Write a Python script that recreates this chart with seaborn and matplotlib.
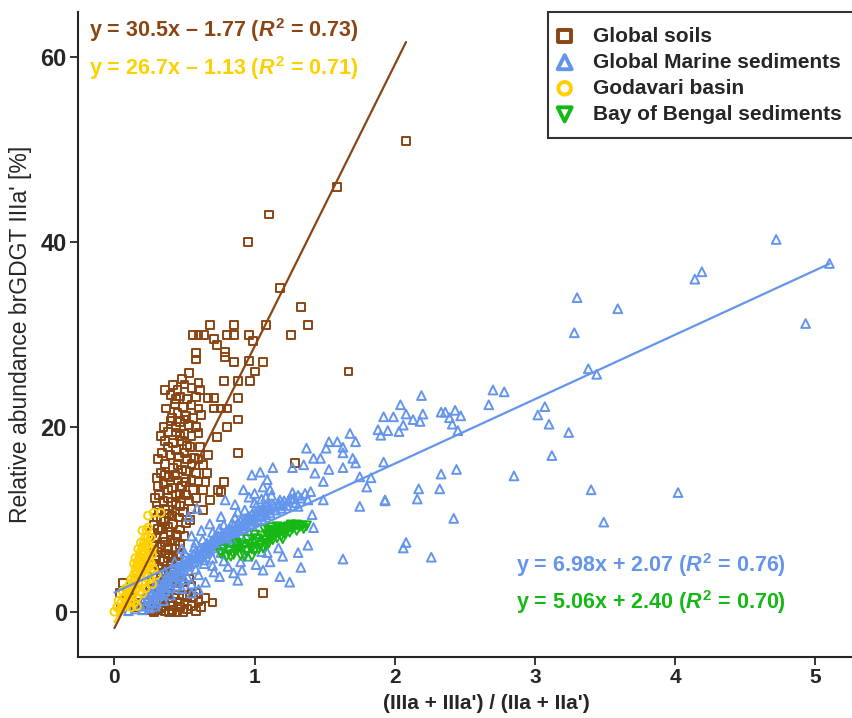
import numpy as np
import pandas as pd
import matplotlib
matplotlib.use("Agg")
import matplotlib.pyplot as plt
import seaborn as sns

# Values (x = (IIIa+IIIa')/(IIa+IIa'), y = % IIIa')
soils = [
    (2.08, 51), (1.59, 46), (1.10, 43), (0.95, 40), (1.18, 35), (1.33, 33), (1.38, 31),
    (1.26, 30), (1.08, 31), (1.67, 26), (0.68, 31), (0.85, 31), (0.56, 30), (0.60, 30),
    (0.64, 30), (0.80, 30), (0.85, 30), (0.96, 30), (0.99, 29.3), (0.71, 29.5), (0.73, 28.9),
    (0.79, 28.1), (0.58, 28), (0.58, 27.3), (0.79, 27.6), (0.85, 27), (0.96, 27.1), (1.06, 27),
    (1.0, 26), (0.53, 25.8), (0.48, 25.2), (0.60, 24.8), (0.78, 25), (0.88, 25), (0.97, 25),
    (0.42, 24.5), (0.45, 24), (0.5, 24.6), (0.55, 24.2), (0.61, 24), (0.47, 23.3), (0.52, 23),
    (0.58, 23.2), (0.67, 23.1), (0.71, 23.1), (0.88, 23.1), (0.43, 22.5), (0.49, 22.2),
    (0.55, 22.4), (0.60, 22), (0.71, 22), (0.76, 22), (0.8, 22), (0.45, 21.5), (0.51, 21.2),
    (0.56, 21), (0.62, 21.3), (0.88, 20.8), (0.40, 20.6), (0.47, 20.5), (0.53, 20.2),
    (0.58, 20), (0.8, 20), (0.38, 19.5), (0.44, 19.4), (0.5, 19.2), (0.55, 19), (0.6, 19.3),
    (0.73, 18.9), (0.36, 18.5), (0.42, 18.3), (0.48, 18.5), (0.54, 17.8), (0.61, 17.8),
    (0.88, 17.2), (0.67, 17), (0.34, 17.2), (0.4, 17), (0.46, 16.8), (0.52, 16.5), (0.57, 16.6),
    (0.63, 15.9), (0.36, 16), (0.42, 15.6), (0.48, 15.4), (0.58, 15), (0.66, 15), (0.33, 15),
    (0.39, 14.6), (1.29, 16.1), (0.76, 13), (0.65, 14), (0.78, 14), (0.45, 14.2), (0.51, 14),
    (0.35, 13.8), (0.41, 13.4), (0.74, 13.2), (0.56, 13.2), (0.63, 13.2), (0.47, 12.8),
    (0.32, 12.6), (0.38, 12.3), (0.68, 12.1), (0.53, 12), (0.44, 11.6), (0.30, 11.5),
    (0.63, 11), (0.36, 11), (0.49, 10.8), (0.41, 10.4), (0.54, 9.9), (0.33, 10), (0.28, 9.4),
    (0.38, 9.2), (0.47, 8.9), (0.34, 8.9), (0.44, 8.3), (0.30, 8), (0.40, 7.8), (0.36, 7.5),
    (0.33, 7), (0.43, 6.8), (0.39, 6.2), (0.29, 5.9), (0.46, 6.2), (0.35, 5.5), (0.41, 5.2),
    (0.32, 4.8), (0.50, 5), (0.37, 4.4), (0.44, 4), (0.30, 3.8), (0.40, 3.4), (0.48, 3.2),
    (0.27, 3.2), (0.35, 3), (0.06, 3.1), (0.04, 2), (0.26, 2), (0.35, 2.4), (0.45, 2.3),
    (0.22, 1.4), (0.30, 1.1), (0.38, 1.5), (0.45, 1.1), (0.60, 1.1), (0.52, 1.6), (1.06, 2),
    (0.15, 0.5), (0.20, 0.2), (0.25, 0.6), (0.31, 0.2), (0.39, 0), (0.45, 0), (0.52, 0.3),
    (0.10, 0.1), (0.05, 0.4), (0.58, 0.1), (0.35, 0.6), (0.28, 0.0), (0.42, 0.6), (0.18, 0.9),
    (0.12, 1.5),
    (0.36, 24.0), (0.4, 23.5), (0.44, 23.0), (0.37, 22.0), (0.41, 21.0), (0.35, 20.0),
    (0.44, 20.0), (0.5, 20.8), (0.33, 19.0), (0.47, 19.0), (0.52, 18.0), (0.38, 17.8),
    (0.44, 17.5), (0.31, 16.5), (0.5, 17.2), (0.55, 16.0), (0.6, 16.5), (0.45, 15.9),
    (0.51, 15.2), (0.3, 14.5), (0.36, 14.8), (0.43, 14.8), (0.55, 14.3), (0.6, 14.1),
    (0.48, 13.6), (0.38, 13.2), (0.31, 13.6), (0.44, 12.6), (0.51, 12.6), (0.58, 12.3),
    (0.35, 12.0), (0.41, 11.9), (0.29, 12.3), (0.47, 11.4), (0.55, 11.1), (0.32, 11.0),
    (0.39, 10.6), (0.46, 10.2), (0.51, 9.6), (0.3, 10.2), (0.36, 9.8), (0.42, 9.5), (0.31, 9.0),
    (0.4, 8.6), (0.5, 8.2), (0.27, 8.5), (0.35, 8.1), (0.43, 7.6), (0.28, 7.2), (0.38, 6.9),
    (0.47, 7.2), (0.31, 6.5), (0.42, 6.0), (0.36, 6.3), (0.28, 5.2), (0.38, 5.8), (0.45, 5.2),
    (0.33, 4.2), (0.41, 4.6), (0.47, 4.2), (0.28, 4.5), (0.36, 3.6), (0.44, 3.2), (0.32, 2.6),
    (0.4, 2.5), (0.5, 2.4), (0.55, 2.8), (0.25, 2.6), (0.3, 2.0), (0.38, 2.0), (0.48, 1.8),
    (0.56, 1.6), (0.24, 1.0), (0.33, 1.4), (0.41, 1.0), (0.5, 1.0), (0.55, 0.6), (0.47, 0.5),
    (0.36, 0.1), (0.41, 0.2), (0.49, 0.0), (0.33, 0.4), (0.26, 0.2), (0.43, 1.8), (0.62, 0.5),
    (0.53, 3.5), (0.58, 2.0), (0.65, 1.5), (0.7, 1.0),
]

marine = [
    (4.72, 40.3), (5.10, 37.7), (4.19, 36.8), (4.14, 36.0), (4.93, 31.2), (3.30, 34.0),
    (3.59, 32.8), (3.28, 30.2), (3.38, 26.3), (3.44, 25.7), (3.07, 22.2), (3.02, 21.3),
    (3.10, 20.3), (3.24, 19.4), (3.12, 16.9), (2.70, 24.0), (2.78, 23.8), (2.67, 22.4),
    (2.85, 14.7), (3.40, 13.2), (4.02, 12.9), (3.49, 9.7), (2.44, 15.4), (2.33, 14.9),
    (2.17, 13.3), (2.32, 13.3), (2.16, 12.2), (1.93, 12.0), (2.42, 10.1), (2.08, 7.5),
    (2.06, 6.9), (2.26, 5.9), (1.92, 16.2), (2.19, 23.4), (2.04, 22.4), (1.92, 21.1),
    (1.99, 21.1), (2.08, 21.4), (2.20, 21.4), (2.13, 20.8), (2.18, 20.6), (2.06, 20.2),
    (1.95, 19.6), (2.03, 19.5), (1.90, 19.1), (2.33, 21.6), (2.36, 21.6), (2.43, 21.8),
    (2.47, 21.2), (2.39, 21.0), (2.41, 20.3), (2.45, 19.6), (1.63, 5.7),
    (1.88, 19.7), (1.68, 19.3), (1.72, 18.4), (1.53, 18.4), (1.59, 18.4), (1.63, 17.8),
    (1.51, 17.7), (1.37, 17.7), (1.63, 17.2), (1.42, 16.6), (1.47, 16.6), (1.70, 16.6),
    (1.35, 15.9), (1.53, 15.4), (1.63, 15.6), (1.72, 16.1), (1.43, 15.0), (1.27, 15.6),
    (1.13, 15.6), (1.75, 14.6), (1.83, 14.5), (1.80, 13.5), (1.49, 14.1), (0.98, 14.8),
    (1.04, 15.1), (1.09, 14.3), (1.06, 13.5), (1.11, 13.2), (0.92, 13.2), (0.96, 12.4),
    (0.86, 11.6), (0.79, 12.1), (0.59, 11.2), (0.53, 10.3), (0.76, 10.3), (1.01, 11.4),
    (1.18, 12.1), (1.27, 12.9), (1.38, 12.1), (1.31, 11.4), (1.41, 10.5), (1.49, 12.1),
    (1.75, 11.4), (1.93, 12.1), (1.42, 9.1), (1.38, 7.2), (1.31, 6.4), (1.17, 6.9),
    (1.09, 6.4), (1.20, 6.0), (1.11, 5.4), (1.33, 4.8), (0.90, 5.4), (1.01, 5.1), (0.91, 4.5),
    (1.06, 4.5), (1.18, 3.8), (0.81, 4.9), (0.71, 4.3), (0.64, 5.6), (1.25, 3.2),
    (0.62, 8.8), (0.68, 9.5), (0.72, 8.2), (0.84, 9.6), (0.88, 10.8), (0.66, 7.2), (0.58, 7.5),
    (0.95, 10.2), (1.0, 12.8), (1.05, 12.2), (1.08, 11.5), (1.12, 12.6), (0.48, 6.8),
    (0.55, 8.2), (0.75, 9.0), (0.82, 7.5), (0.5, 3.5), (0.55, 3.0), (0.6, 4.0), (0.65, 3.2),
    (0.75, 3.8), (0.85, 4.2), (0.95, 6.0), (1.05, 6.5), (0.7, 5.0), (0.78, 5.5), (0.48, 2.5),
    (0.55, 2.0), (0.6, 2.4), (0.88, 3.4),
    (0.15, 0.3), (0.18, 0.8), (0.2, 1.2), (0.22, 0.6), (0.24, 1.5), (0.26, 1.0), (0.27, 2.0),
    (0.28, 1.4), (0.3, 2.4), (0.31, 1.8), (0.32, 3.0), (0.33, 2.2), (0.35, 3.2), (0.36, 2.6),
    (0.37, 3.8), (0.38, 3.0), (0.4, 4.0), (0.41, 3.4), (0.42, 4.6), (0.44, 3.8), (0.45, 4.8),
    (0.46, 4.2), (0.48, 5.2), (0.49, 4.5), (0.5, 5.6), (0.52, 4.9), (0.53, 5.8), (0.54, 5.2),
    (0.56, 6.2), (0.57, 5.4), (0.58, 6.5), (0.6, 5.8), (0.61, 6.8), (0.62, 6.0), (0.64, 7.0),
    (0.65, 6.3), (0.66, 7.4), (0.68, 6.6), (0.69, 7.6), (0.7, 6.9), (0.72, 8.0), (0.73, 7.2),
    (0.74, 8.2), (0.76, 7.4), (0.77, 8.5), (0.78, 7.7), (0.8, 8.8), (0.81, 8.0), (0.82, 9.0),
    (0.84, 8.2), (0.85, 9.3), (0.86, 8.5), (0.88, 9.6), (0.89, 8.8), (0.9, 9.8), (0.92, 9.0),
    (0.93, 10.0), (0.94, 9.3), (0.96, 10.3), (0.97, 9.5), (0.98, 10.5), (1.0, 9.8),
    (1.01, 10.8), (1.02, 10.0), (1.04, 11.0), (1.05, 10.3), (1.06, 11.2), (1.08, 10.5),
    (1.1, 11.4), (1.11, 10.7), (1.13, 11.6), (1.15, 11.0), (1.17, 11.8), (1.19, 11.2),
    (1.21, 12.0), (1.23, 11.5), (1.26, 12.2), (1.29, 11.8), (1.33, 12.3), (0.34, 1.8),
    (0.4, 2.6), (0.46, 3.2), (0.52, 3.8), (0.58, 4.6), (0.64, 5.2), (0.7, 5.8), (0.76, 6.4),
    (0.82, 7.0), (0.88, 7.6), (0.94, 8.2), (1.0, 8.8), (0.25, 0.4), (0.3, 0.9), (0.2, 0.2),
    (0.1, 0.1), (0.36, 4.3), (0.43, 5.4), (0.5, 6.4), (0.57, 7.0), (0.63, 7.8), (0.7, 8.6),
    (0.78, 9.4), (0.86, 10.2), (0.93, 11.0), (1.0, 11.8), (1.08, 12.4),
    (0.3, 3.0), (0.34, 2.8), (0.38, 3.5), (0.42, 3.9), (0.44, 4.4), (0.47, 4.6), (0.5, 5.0),
    (0.53, 5.4), (0.55, 5.7), (0.58, 5.9), (0.6, 6.3), (0.63, 6.5), (0.66, 6.8), (0.68, 7.1),
    (0.71, 7.4), (0.74, 7.7), (0.76, 7.9), (0.79, 8.2), (0.82, 8.5), (0.84, 8.8), (0.87, 9.1),
    (0.9, 9.3), (0.92, 9.6), (0.95, 9.8), (0.98, 10.0), (1.0, 10.3), (1.03, 10.5), (1.06, 10.8),
    (1.08, 11.0), (1.11, 11.2), (1.14, 11.4), (1.17, 11.5), (1.2, 11.7), (1.24, 12.0),
    (1.28, 12.3), (1.31, 12.6), (1.36, 12.8), (1.4, 13.0), (0.22, 1.8), (0.25, 2.2),
    (0.28, 2.6), (0.32, 2.0), (0.36, 2.3), (0.35, 1.2), (0.29, 0.6), (0.4, 1.8), (0.45, 2.8),
]

godavari = [
    (0.0, 0.0), (0.02, 0.5), (0.04, 0.2), (0.05, 1.0), (0.06, 0.5), (0.07, 1.5), (0.08, 1.0),
    (0.09, 2.0), (0.1, 1.5), (0.1, 2.5), (0.11, 3.0), (0.12, 2.0), (0.12, 3.5), (0.13, 2.8),
    (0.14, 4.0), (0.14, 3.2), (0.15, 4.5), (0.15, 3.6), (0.16, 5.0), (0.16, 4.2), (0.17, 5.5),
    (0.17, 4.8), (0.18, 6.0), (0.18, 5.2), (0.19, 6.5), (0.19, 5.8), (0.2, 7.0), (0.2, 6.2),
    (0.21, 7.5), (0.21, 6.6), (0.22, 8.0), (0.22, 7.0), (0.23, 7.2), (0.24, 8.1), (0.24, 9.1),
    (0.24, 6.7), (0.26, 4.3), (0.28, 10.7), (0.33, 10.7), (0.08, 2.5), (0.09, 0.8), (0.11, 1.2),
    (0.13, 1.8), (0.15, 2.5), (0.17, 3.2), (0.19, 4.0), (0.21, 4.8), (0.23, 5.5), (0.2, 3.0),
    (0.18, 2.2), (0.16, 1.5), (0.25, 5.5), (0.06, 2.2), (0.03, 1.2), (0.14, 5.2), (0.17, 6.8),
    (0.2, 8.8), (0.27, 6.2),
    (0.22, 5.8), (0.24, 4.8), (0.26, 5.2), (0.28, 4.6), (0.25, 3.5), (0.23, 3.8), (0.22, 2.5),
    (0.27, 3.0), (0.3, 4.0), (0.18, 3.8), (0.2, 2.0), (0.12, 0.5), (0.14, 1.0), (0.16, 0.6),
    (0.25, 7.0), (0.23, 8.8), (0.26, 8.0), (0.24, 10.4), (0.15, 5.8), (0.19, 7.5),
]

bengal = [
    (0.76, 6.3), (0.8, 6.0), (0.82, 6.6), (0.85, 6.2), (0.88, 6.8), (0.9, 6.1), (0.92, 7.0),
    (0.94, 6.5), (0.96, 7.3), (0.98, 6.8), (1.0, 7.5), (1.0, 6.6), (1.02, 7.9), (1.04, 7.2),
    (1.05, 8.2), (1.06, 6.9), (1.08, 7.7), (1.09, 8.4), (1.1, 7.4), (1.11, 8.0), (1.12, 8.6),
    (1.13, 7.8), (1.14, 8.3), (1.15, 8.8), (1.16, 8.0), (1.17, 8.5), (1.18, 9.0), (1.19, 8.2),
    (1.2, 8.7), (1.21, 9.1), (1.22, 8.4), (1.23, 8.9), (1.24, 9.2), (1.25, 8.6), (1.27, 9.0),
    (1.28, 9.3), (1.3, 8.8), (1.32, 9.2), (1.34, 9.3), (1.37, 9.3), (1.07, 8.9), (1.12, 9.1),
    (1.0, 8.3), (0.95, 7.8), (0.87, 7.4), (0.98, 6.0),
    (0.78, 6.8), (0.83, 6.0), (0.9, 7.2), (0.93, 6.0), (0.97, 7.0), (1.03, 6.8), (1.1, 8.8),
    (1.16, 9.2), (1.26, 9.4), (1.3, 9.4), (1.35, 9.0), (1.2, 7.9), (1.08, 7.2), (0.86, 6.6),
]

# regression lines: slope, intercept, x range (from the equations on the chart)
fits = {
    "soils": (30.5, -1.77, 0.0, 2.08),
    "godavari": (26.7, -1.13, 0.0, 0.30),
    "marine": (6.98, 2.07, 0.0, 5.10),
    "bengal": (5.06, 2.40, 0.75, 1.37),
}

brown = "#8B4513"
blue = "#6495ED"
yellow = "#FFD000"
green = "#16B816"

sns.set_style("ticks")
plt.rcParams["font.family"] = ["Liberation Sans", "DejaVu Sans"]
plt.rcParams["mathtext.fontset"] = "custom"
plt.rcParams["mathtext.rm"] = "Liberation Sans:bold"
plt.rcParams["mathtext.it"] = "Liberation Sans:bold:italic"

fig = plt.figure(figsize=(8.53, 7.18), dpi=100)
# the reference is cropped on the right: the axes run past the image edge
ax = fig.add_axes([0.0914, 0.085, 0.9566, 0.898])

def to_df(pts):
    return pd.DataFrame(pts, columns=["x", "y"])

ms = 32
sns.scatterplot(data=to_df(soils), x="x", y="y", marker="s", s=ms, facecolor="none",
                edgecolor=brown, linewidth=1.4, label="Global soils", ax=ax, zorder=2)
sns.scatterplot(data=to_df(marine), x="x", y="y", marker="^", s=ms + 8, facecolor="none",
                edgecolor=blue, linewidth=1.4, label="Global Marine sediments", ax=ax, zorder=3)
sns.scatterplot(data=to_df(godavari), x="x", y="y", marker="o", s=ms, facecolor="none",
                edgecolor=yellow, linewidth=1.4, label="Godavari basin", ax=ax, zorder=4)
sns.scatterplot(data=to_df(bengal), x="x", y="y", marker="v", s=ms + 8, facecolor="none",
                edgecolor=green, linewidth=1.4, label="Bay of Bengal sediments", ax=ax, zorder=5)

for key, col in [("marine", blue), ("bengal", green), ("godavari", yellow), ("soils", brown)]:
    m, b, x0, x1 = fits[key]
    xs = np.array([x0, x1])
    sns.lineplot(x=xs, y=m * xs + b, color=col, linewidth=1.6, ax=ax, zorder=6)

ax.set_xlim(-0.26, 5.56)
ax.set_ylim(-4.9, 64.9)
ax.set_xticks([0, 1, 2, 3, 4, 5])
ax.set_yticks([0, 20, 40, 60])
sns.despine(ax=ax)
for sp in ["left", "bottom"]:
    ax.spines[sp].set_linewidth(1.5)
ax.tick_params(axis="both", direction="out", length=6, width=1.3, pad=2)
ax.tick_params(axis="x", labelsize=15)
ax.tick_params(axis="y", labelsize=17)
for lab in ax.get_xticklabels() + ax.get_yticklabels():
    lab.set_fontweight("bold")

ax.set_xlabel("(IIIa + IIIa') / (IIa + IIa')", fontsize=15, fontweight="bold", labelpad=5)
ax.set_ylabel("Relative abundance brGDGT IIIa' [%]", fontsize=16.5, labelpad=6)

eq_kw = dict(transform=ax.transAxes, fontsize=15.5, fontweight="bold", va="center")
ax.text(0.013, 0.972, r"y = 30.5x – 1.77 ($\mathit{R}^{2}$ = 0.73)", color=brown, **eq_kw)
ax.text(0.013, 0.913, r"y = 26.7x – 1.13 ($\mathit{R}^{2}$ = 0.71)", color=yellow, **eq_kw)
ax.text(0.537, 0.143, r"y = 6.98x + 2.07 ($\mathit{R}^{2}$ = 0.76)", color=blue, **eq_kw)
ax.text(0.537, 0.085, r"y = 5.06x + 2.40 ($\mathit{R}^{2}$ = 0.70)", color=green, **eq_kw)

leg = ax.legend(loc="upper left", bbox_to_anchor=(548 / 853, 1 - 12 / 718),
                bbox_transform=fig.transFigure, frameon=True, fancybox=False,
                fontsize=15.0, markerscale=1.6, handletextpad=1.26, labelspacing=0.34,
                borderpad=0.7, handlelength=0.2, borderaxespad=0)
leg.get_frame().set_edgecolor("black")
leg.get_frame().set_linewidth(1.5)
for t in leg.get_texts():
    t.set_fontweight("bold")
for h in leg.legend_handles:
    h.set_linewidth(2.8)

fig.savefig("out.png", dpi=100)
